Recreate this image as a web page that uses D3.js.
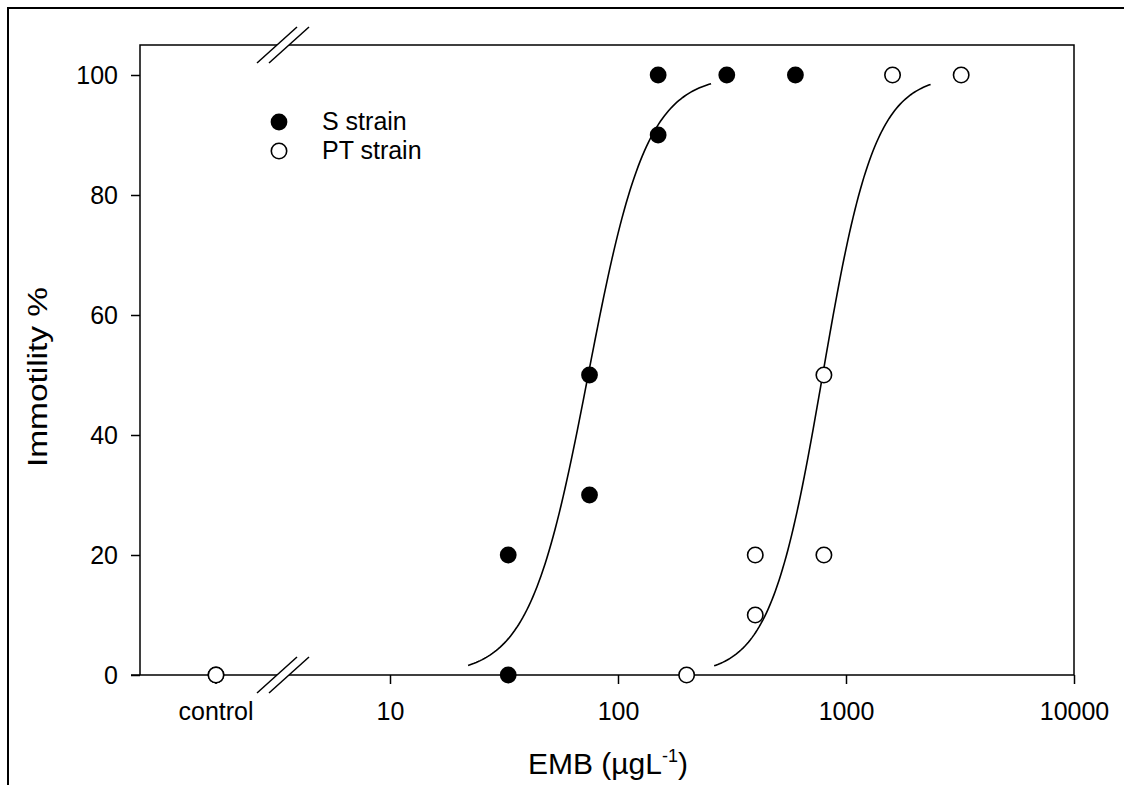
<!DOCTYPE html>
<html>
<head>
<meta charset="utf-8">
<script src="https://cdn.jsdelivr.net/npm/d3@7"></script>
<style>
  body { margin: 0; background: #fff; }
  text { font-family: "Liberation Sans", Arial, sans-serif; fill: #000; }
</style>
</head>
<body>
<svg id="chart" width="1124" height="785"></svg>
<script>
// S strain (filled) and PT strain (open)
const sDose = [33, 33, 75, 75, 150, 150, 300, 600];
const sImmotility = [0, 20, 30, 50, 90, 100, 100, 100];
const ptDose = [200, 400, 400, 800, 800, 1600, 3200];
const ptImmotility = [0, 10, 20, 20, 50, 100, 100];
const controlImmotility = [0, 0]; // S, PT

// fitted dose-response curves (logistic), parameters
const sFit = { ec50: 74, slope: 3.4, from: 22, to: 256 };
const ptFit = { ec50: 790, slope: 3.8, from: 264, to: 2350 };

const xTicks = [10, 100, 1000, 10000];
const yTicks = [0, 20, 40, 60, 80, 100];
const legendLabels = ['S strain', 'PT strain'];

(function () {
const svg = d3.select('#chart');
const plotLeft = 140, plotRight = 1074, plotTop = 45, plotBottom = 675;
const controlX = 216, breakX = 283;
const tickFont = '25px';

const x = d3.scaleLog().domain([10, 10000]).range([390, plotRight]);
const y = d3.scaleLinear().domain([0, 100]).range([plotBottom, 75]);

// outer border (cropped in the original)
svg.append('rect')
    .attr('x', 8).attr('y', 8).attr('width', 1140).attr('height', 820)
    .attr('fill', 'none').attr('stroke', '#000').attr('stroke-width', 2);

// frame: left, right, top (with break), bottom (with break)
const frame = svg.append('g').attr('stroke', '#000').attr('stroke-width', 1.5).attr('fill', 'none');
frame.append('path').attr('d', `M${plotLeft},${plotBottom}V${plotTop}H${breakX - 6}M${breakX + 6},${plotTop}H${plotRight}V${plotBottom}`);
frame.append('path').attr('d', `M${plotLeft - 9},${plotBottom}H${breakX - 6}M${breakX + 6},${plotBottom}H${plotRight}`);

// axis break marks
[plotTop, plotBottom].forEach(yy => {
    [-6, 6].forEach(off => {
        frame.append('line')
            .attr('x1', breakX + off - 20).attr('y1', yy + 18)
            .attr('x2', breakX + off + 20).attr('y2', yy - 18);
    });
});

// y axis
const yAxis = svg.append('g')
    .attr('transform', `translate(${plotLeft},0)`)
    .call(d3.axisLeft(y).tickValues(yTicks).tickSize(9).tickPadding(13));
yAxis.select('.domain').remove();
yAxis.selectAll('line').attr('stroke-width', 1.5);
yAxis.selectAll('text').style('font-size', tickFont).style('font-family', '"Liberation Sans", Arial, sans-serif');

// x axis (log part)
const xAxis = svg.append('g')
    .attr('transform', `translate(0,${plotBottom})`)
    .call(d3.axisBottom(x).tickValues(xTicks).tickFormat(d3.format('d')).tickSize(9).tickPadding(18));
xAxis.select('.domain').remove();
xAxis.selectAll('line').attr('stroke-width', 1.5);
xAxis.selectAll('text').style('font-size', tickFont).style('font-family', '"Liberation Sans", Arial, sans-serif');

// control tick
const ctrl = svg.append('g').attr('transform', `translate(${controlX},${plotBottom})`);
ctrl.append('line').attr('y2', 9).attr('stroke', '#000').attr('stroke-width', 1.5);
ctrl.append('text').attr('y', 27).attr('dy', '0.71em').attr('text-anchor', 'middle')
    .style('font-size', tickFont).text('control');

// axis titles
const xTitle = svg.append('text')
    .attr('x', 608).attr('y', 774).attr('text-anchor', 'middle')
    .style('font-size', '30px');
xTitle.append('tspan').text('EMB (µgL');
xTitle.append('tspan').attr('dy', -12).style('font-size', '18px').text('-1');
xTitle.append('tspan').attr('dy', 12).text(')');

svg.append('text')
    .attr('transform', `translate(47,377) rotate(-90)`)
    .attr('text-anchor', 'middle')
    .attr('textLength', 180).attr('lengthAdjust', 'spacingAndGlyphs')
    .style('font-size', '27px')
    .text('Immotility %');

// fitted curves
const logistic = (fit, d) => 100 / (1 + Math.pow(fit.ec50 / d, fit.slope));
const line = d3.line().x(d => x(d[0])).y(d => y(d[1]));
[sFit, ptFit].forEach(fit => {
    const pts = d3.range(0, 121).map(i => {
        const d = Math.exp(Math.log(fit.from) + i / 120 * (Math.log(fit.to) - Math.log(fit.from)));
        return [d, logistic(fit, d)];
    });
    svg.append('path').attr('d', line(pts))
        .attr('fill', 'none').attr('stroke', '#000').attr('stroke-width', 1.6);
});

// points
const sPoints = sDose.map((d, i) => ({ x: x(d), y: y(sImmotility[i]) }));
const ptPoints = ptDose.map((d, i) => ({ x: x(d), y: y(ptImmotility[i]) }));

svg.append('g').selectAll('circle')
    .data(sPoints.concat([{ x: controlX, y: y(controlImmotility[0]) }]))
    .enter().append('circle')
    .attr('cx', d => d.x).attr('cy', d => d.y).attr('r', 8.4)
    .attr('fill', '#000');

svg.append('g').selectAll('circle')
    .data(ptPoints.concat([{ x: controlX, y: y(controlImmotility[1]) }]))
    .enter().append('circle')
    .attr('cx', d => d.x).attr('cy', d => d.y).attr('r', 7.7)
    .attr('fill', '#fff').attr('stroke', '#000').attr('stroke-width', 1.6);

// legend
const legend = svg.append('g').attr('transform', 'translate(279,122)');
legendLabels.forEach((label, i) => {
    const row = legend.append('g').attr('transform', `translate(0,${i * 29})`);
    row.append('circle').attr('r', i === 0 ? 8.4 : 7.7)
        .attr('fill', i === 0 ? '#000' : '#fff')
        .attr('stroke', i === 0 ? 'none' : '#000').attr('stroke-width', 1.6);
    row.append('text').attr('x', 43).attr('dy', '0.33em')
        .style('font-size', '25px').text(label);
});
})();
</script>
</body>
</html>
